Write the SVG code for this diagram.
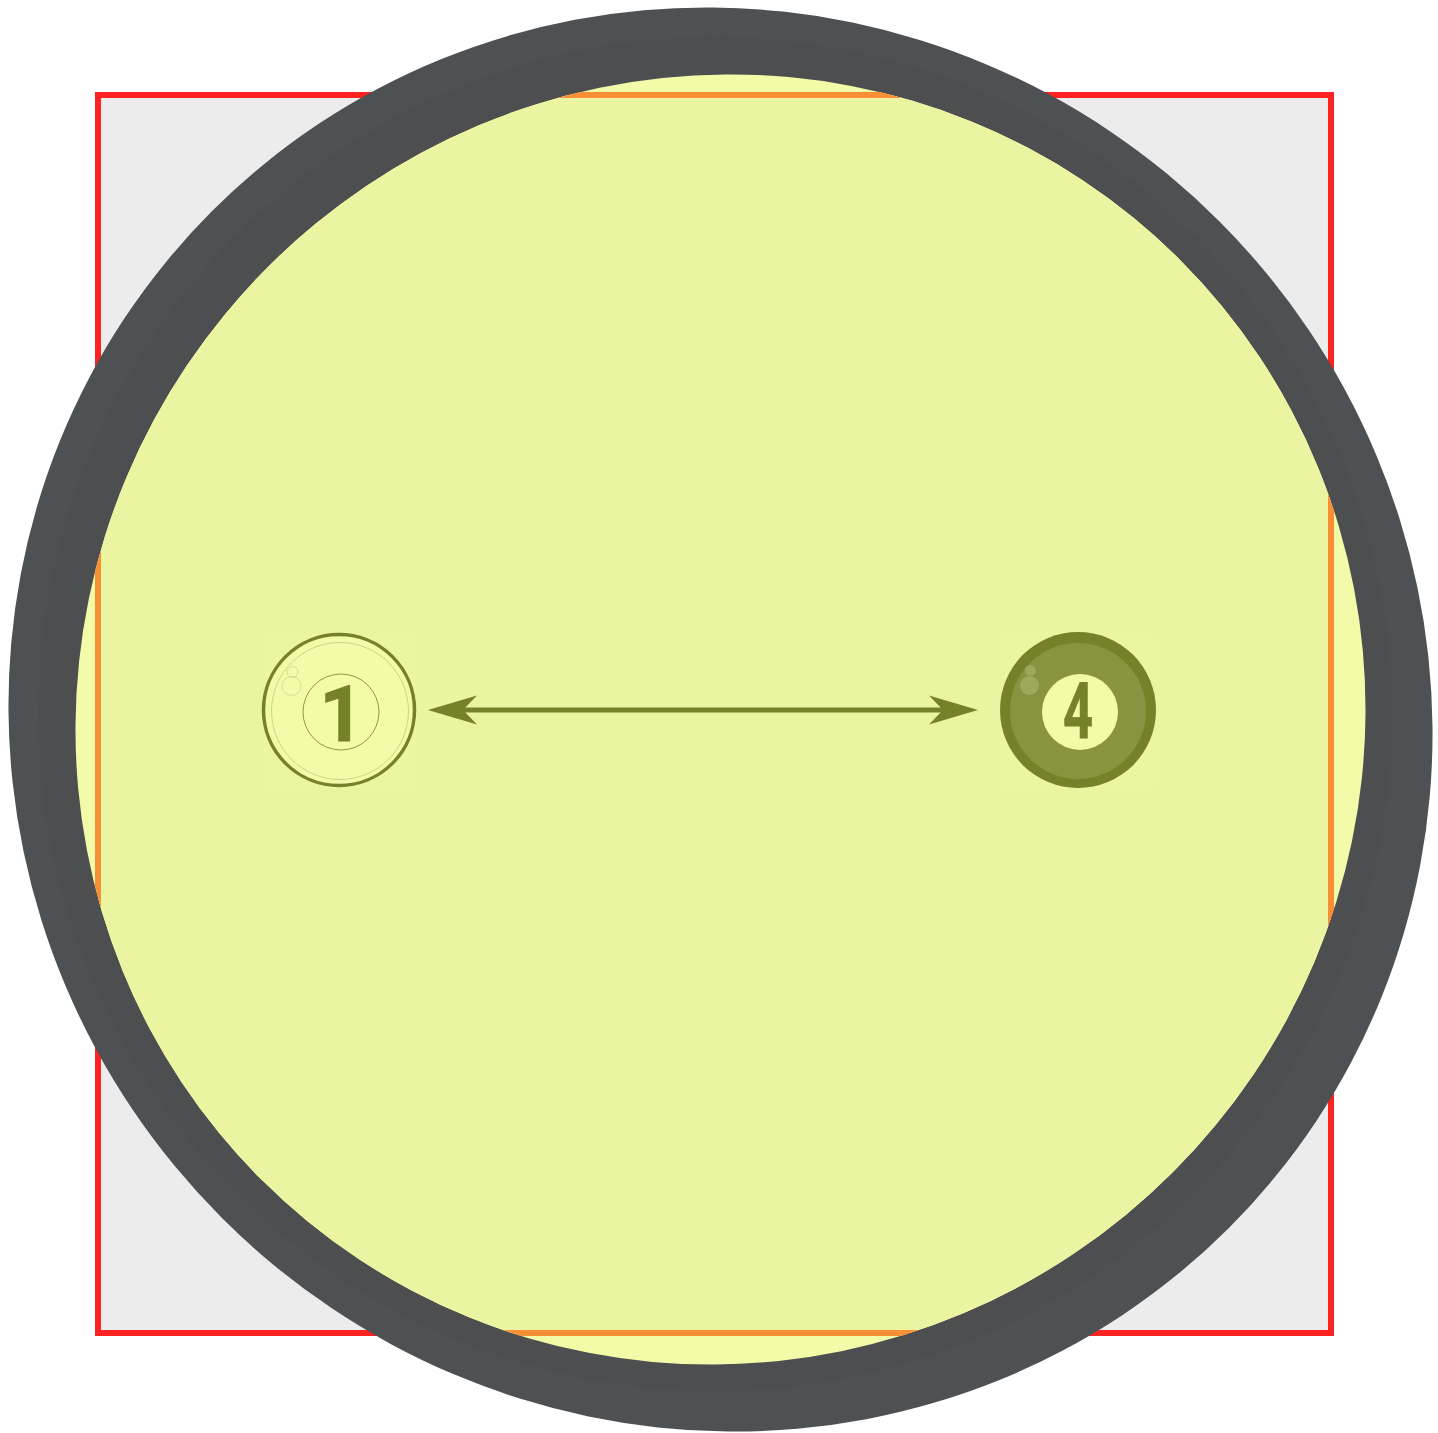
<svg xmlns="http://www.w3.org/2000/svg" width="1438" height="1433" viewBox="0 0 1438 1433">
<style>
.num{font-family:Roboto,"Liberation Sans",Arial,sans-serif;font-weight:700;font-size:77px;fill:#76812a;stroke:#76812a;text-anchor:middle}
.link{fill:none;stroke:#76812a;stroke-width:5}
</style>
<defs>
<clipPath id="lens"><ellipse cx="720.500" cy="719.500" rx="640" ry="650" transform="rotate(45 720.500 719.500)"/></clipPath>
<clipPath id="rim"><ellipse cx="720.500" cy="719.500" rx="719" ry="705" transform="rotate(45 720.500 719.500)"/></clipPath>
<marker id="head" markerUnits="userSpaceOnUse" markerWidth="52" markerHeight="32" refX="14" refY="15" orient="auto-start-reverse" viewBox="0 0 52 30">
<path d="M0,0.5 L49,15 L0,29.5 L14,15Z" fill="#76812a"/>
</marker>
</defs>
<rect width="1438" height="1433" fill="#fff"/>
<g id="frame">
<rect x="98" y="95" width="1233" height="1238" fill="#ececec" stroke="#ff2222" stroke-width="6"/>
</g>
<g id="lens-view">
<ellipse cx="720.500" cy="719.500" rx="719" ry="705" transform="rotate(45 720.500 719.500)" fill="#4e5153"/>
<circle cx="715" cy="714" r="677" fill="#4c4e50" clip-path="url(#rim)"/>
<ellipse cx="720.500" cy="719.500" rx="640" ry="650" transform="rotate(45 720.500 719.500)" fill="#f3fba8"/>
<g clip-path="url(#lens)">
<rect x="98" y="95" width="1233" height="1238" fill="#ebf4a0" stroke="#f88f35" stroke-width="6"/>
</g>
</g>
<g id="ball-1">
<rect x="264" y="633" width="153" height="155" fill="#ecf5a2"/>
<circle cx="339" cy="710" r="75.500" fill="#f3fba8" stroke="#76812a" stroke-width="3.500"/>
<circle cx="340" cy="711" r="68.500" fill="none" stroke="#ccd488" stroke-width="1"/>
<circle cx="341" cy="712" r="38" fill="none" stroke="#8f9a45" stroke-width="1"/>
<circle cx="291.500" cy="686" r="9.500" fill="none" stroke="#d6de90" stroke-width="1"/>
<circle cx="292.500" cy="672" r="5.500" fill="none" stroke="#d6de90" stroke-width="1"/>
<text class="num" transform="translate(341.500 741)" stroke-width="1">1</text>
</g>
<g id="ball-4">
<rect x="1002" y="633" width="153" height="155" fill="#ecf5a2"/>
<circle cx="1078" cy="710" r="78" fill="#76812a"/>
<circle cx="1078" cy="711" r="68" fill="#8a933f"/>
<circle cx="1080" cy="712" r="38" fill="#f3fba8"/>
<circle cx="1029.500" cy="685.500" r="9.500" fill="#9ea95c"/>
<circle cx="1030.500" cy="670.500" r="5.500" fill="#9ea95c"/>
<text class="num" transform="translate(1078 738) scale(0.68 1)" stroke-width="0.800">4</text>
</g>
<g id="connectors">
<path class="link" d="M463,710 H943" marker-start="url(#head)" marker-end="url(#head)"/>
</g>
</svg>
